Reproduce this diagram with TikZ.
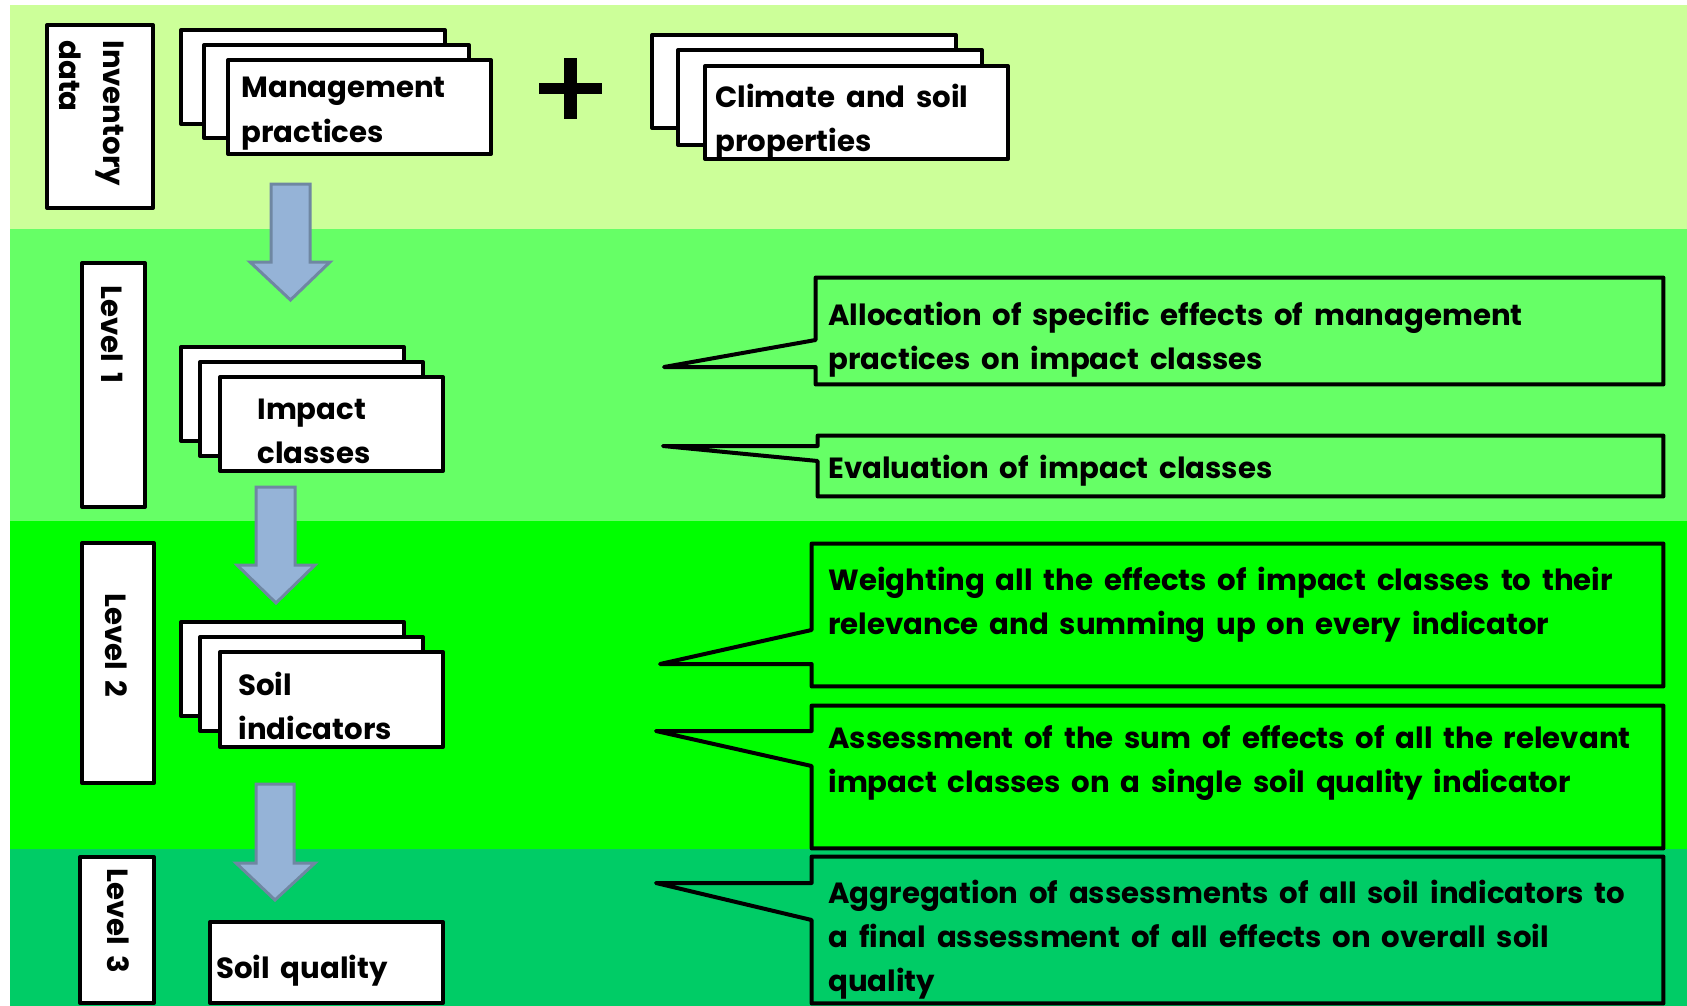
\documentclass[tikz,border=0pt]{standalone}
\usepackage{fontspec}
\setmainfont{Poppins}
\usetikzlibrary{fit}
\definecolor{bandA}{HTML}{CCFF99}
\definecolor{bandB}{HTML}{66FF66}
\definecolor{bandC}{HTML}{00FF00}
\definecolor{bandD}{HTML}{00CC66}
\definecolor{arrowfill}{HTML}{95B3D7}
\definecolor{arrowline}{HTML}{6F87A2}
\newcommand{\lns}[1]{\begin{tabular}[t]{@{}l@{}}#1\end{tabular}}
\newcommand{\txtfont}{\fontsize{14.6}{22}\selectfont\bfseries\spaceskip=5.4pt plus 1pt minus 1pt\relax}
\begin{document}
\begin{tikzpicture}[x=0.5pt,y=-0.5pt,
  card/.style={draw=black, line width=2pt, fill=white, line join=round, inner sep=0pt},
  txt/.style={inner sep=0pt, anchor=base west, font=\txtfont},
  call/.style={draw=black, line width=2pt, line join=round},
  blk/.style={fill=arrowfill, draw=arrowline, line width=1.5pt, line join=miter},
  area/.style={inner sep=0pt}]
\useasboundingbox (0,0) rectangle (1687,1006);
\fill[white] (0,0) rectangle (1687,1006);
% bands
\fill[bandA] (10,5) rectangle (1687,229);
\fill[bandB] (10,229) rectangle (1687,521);
\fill[bandC] (10,521) rectangle (1687,849);
\fill[bandD] (10,849) rectangle (1687,1006);

% left label boxes
\node[card, fit={(47,25) (153,208)}] (inv) {};
\node[txt, rotate=-90] (invt) at (103,40) {\lns{Inventory\\data}};
\node[card, fit={(82,263) (145,507)}] (lv1) {};
\node[txt, rotate=-90] (lv1t) at (101,285) {Level 1};
\node[card, fit={(82,543) (154,783)}] (lv2) {};
\node[txt, rotate=-90] (lv2t) at (105,593) {Level 2};
\node[card, fit={(80,857) (154,1003)}] (lv3) {};
\node[txt, rotate=-90] (lv3t) at (107,868) {Level 3};

% management practices
\node[card, fit={(181,30) (445,124)}] (mp1) {};
\node[card, fit={(204,45) (469,138)}] (mp2) {};
\node[card, fit={(228,60) (491,154)}] (mp3) {};
\node[txt] (mpt) at (241,98) {\lns{Management\\practices}};

% plus
\fill[black] (564,58) rectangle (577,119);
\fill[black] (539,83) rectangle (602,94);

% climate and soil
\node[card, fit={(652,35) (956,128)}] (cs1) {};
\node[card, fit={(678,50) (982,145)}] (cs2) {};
\node[card, fit={(705,66) (1008,159)}] (cs3) {};
\node[txt] (cst) at (715,108) {\lns{Climate and soil\\properties}};

% impact classes
\node[card, fit={(181,347) (404,441)}] (ic1) {};
\node[card, fit={(200,362) (423,456)}] (ic2) {};
\node[card, fit={(220,377) (443,471)}] (ic3) {};
\node[txt] (ict) at (257,419) {\lns{Impact\\classes}};

% soil indicators
\node[card, fit={(181,622) (404,716)}] (si1) {};
\node[card, fit={(200,637) (423,731)}] (si2) {};
\node[card, fit={(220,652) (443,747)}] (si3) {};
\node[txt] (sit) at (238,695) {\lns{Soil\\indicators}};

% soil quality
\node[card, fit={(210,922) (443,1003)}] (sq) {};
\node[txt] (sqt) at (216,978) {Soil quality};

% block arrows
\draw[blk] (271,184) -- (310,184) -- (310,262) -- (330,262) -- (290.5,300) -- (250,262) -- (271,262) -- cycle;
\draw[blk] (256,487) -- (295,487) -- (295,565) -- (315,565) -- (276,603) -- (237,565) -- (256,565) -- cycle;
\draw[blk] (256,784) -- (294,784) -- (294,863) -- (315,863) -- (275,900) -- (236,863) -- (256,863) -- cycle;

% callouts
\node[area, fit={(816,278) (1663,384)}] (c1) {};
\coordinate (t1) at (664,367);
\draw[call] (c1.north west) -- (c1.north east) -- (c1.south east) -- (c1.south west)
  -- (c1.west |- t1) -- (t1) -- (c1.west |- 0,340) -- cycle;
\node[txt] (c1t) at (828,325) {\lns{Allocation of specific effects of management\\practices on impact classes}};

\node[area, fit={(818,436) (1663,496)}] (c2) {};
\coordinate (t2) at (663,446);
\draw[call] (c2.north west) -- (c2.north east) -- (c2.south east) -- (c2.south west)
  -- (c2.west |- 0,461) -- (t2) -- (c2.west |- t2) -- cycle;
\node[txt] (c2t) at (828,478) {Evaluation of impact classes};

\node[area, fit={(812,544) (1663,686)}] (c3) {};
\coordinate (t3) at (660,664);
\draw[call] (c3.north west) -- (c3.north east) -- (c3.south east) -- (c3.south west)
  -- (c3.west |- t3) -- (t3) -- (c3.west |- 0,630) -- cycle;
\node[txt] (c3t) at (828,590) {\lns{Weighting all the effects of impact classes to their\\relevance and summing up on every indicator}};

\node[area, fit={(812,706) (1663,848)}] (c4) {};
\coordinate (t4) at (656,731);
\draw[call] (c4.north west) -- (c4.north east) -- (c4.south east) -- (c4.south west)
  -- (c4.west |- 0,766) -- (t4) -- (c4.west |- t4) -- cycle;
\node[txt] (c4t) at (828,748) {\lns{Assessment of the sum of effects of all the relevant\\impact classes on a single soil quality indicator}};

\node[area, fit={(812,857) (1663,1003)}] (c5) {};
\coordinate (t5) at (656,883);
\draw[call] (c5.north west) -- (c5.north east) -- (c5.south east) -- (c5.south west)
  -- (c5.west |- 0,920) -- (t5) -- (c5.west |- t5) -- cycle;
\node[txt] (c5t) at (828,903) {\lns{Aggregation of assessments of all soil indicators to\\a final assessment of all effects on overall soil\\quality}};
\end{tikzpicture}
\end{document}
